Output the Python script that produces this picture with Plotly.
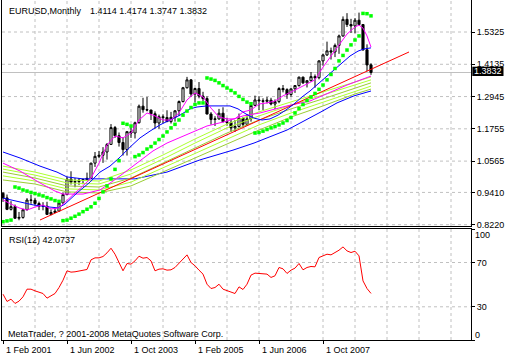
import plotly.graph_objects as go

# ---------------- data ----------------
bar = list(range(93))  # monthly bars, 0 = Feb 2001 ... 92 = Oct 2008

opens = [0.9380,0.9208,0.8785,0.8885,0.8458,0.8488,0.8770,0.9130,0.9120,0.9000,
         0.8900,0.8900,0.8600,0.8670,0.8720,0.9020,0.9330,0.9900,0.9790,0.9810,
         0.9860,0.9880,0.9930,1.0490,1.0740,1.0780,1.0900,1.1180,1.1800,1.1500,
         1.1250,1.0990,1.1650,1.1600,1.1980,1.2590,1.2460,1.2450,1.2310,1.1970,
         1.2200,1.2170,1.2020,1.2180,1.2420,1.2760,1.3270,1.3560,1.3040,1.3240,
         1.2960,1.2870,1.2300,1.2100,1.2120,1.2330,1.2020,1.1990,1.1790,1.1840,
         1.2150,1.1920,1.2120,1.2620,1.2820,1.2790,1.2770,1.2810,1.2670,1.2760,
         1.3240,1.3200,1.3020,1.3230,1.3350,1.3660,1.3450,1.3530,1.3680,1.3640,
         1.4260,1.4480,1.4630,1.4590,1.4830,1.5180,1.5790,1.5600,1.5550,1.5760,
         1.5600,1.4670,1.4114]
highs = [0.9418,0.9332,0.9087,0.8962,0.8690,0.8810,0.9200,0.9330,0.9210,0.9070,
         0.9050,0.9065,0.8780,0.8840,0.9060,0.9400,0.9990,1.0190,0.9940,0.9940,
         0.9920,1.0140,1.0500,1.0900,1.0940,1.1080,1.1230,1.1930,1.1860,1.1620,
         1.1450,1.1650,1.1830,1.2020,1.2650,1.2900,1.2930,1.2450,1.2400,1.2280,
         1.2290,1.2440,1.2380,1.2440,1.2800,1.3300,1.3670,1.3580,1.3270,1.3480,
         1.3120,1.2950,1.2370,1.2220,1.2490,1.2550,1.2160,1.2100,1.2080,1.2320,
         1.2160,1.2290,1.2650,1.2980,1.2960,1.2880,1.2930,1.2900,1.2840,1.3290,
         1.3370,1.3250,1.3240,1.3370,1.3680,1.3680,1.3540,1.3850,1.3760,1.4280,
         1.4530,1.4970,1.4750,1.4900,1.5230,1.5900,1.6020,1.5810,1.5840,1.6040,
         1.5620,1.4870,1.4174]
lows = [0.9060,0.8757,0.8743,0.8445,0.8384,0.8440,0.8750,0.8990,0.8930,0.8760,
        0.8750,0.8590,0.8565,0.8660,0.8720,0.9000,0.9310,0.9700,0.9600,0.9690,
        0.9710,0.9860,0.9910,1.0350,1.0680,1.0500,1.0620,1.1170,1.1420,1.1100,
        1.0770,1.0770,1.1420,1.1400,1.1950,1.2350,1.2400,1.2080,1.1760,1.1760,
        1.1970,1.2020,1.1950,1.2020,1.2230,1.2730,1.3240,1.2930,1.2720,1.2880,
        1.2780,1.2290,1.1910,1.1860,1.2090,1.1990,1.1870,1.1640,1.1640,1.1800,
        1.1820,1.1870,1.2020,1.2590,1.2450,1.2450,1.2690,1.2620,1.2480,1.2700,
        1.3100,1.2860,1.2940,1.3080,1.3310,1.3410,1.3280,1.3500,1.3270,1.3580,
        1.4080,1.4440,1.4310,1.4400,1.4520,1.5150,1.5510,1.5290,1.5280,1.5610,
        1.4630,1.3880,1.3747]
closes = [0.9208,0.8785,0.8885,0.8458,0.8488,0.8770,0.9130,0.9120,0.9000,0.8900,
          0.8900,0.8600,0.8670,0.8720,0.9020,0.9330,0.9900,0.9790,0.9810,0.9860,
          0.9880,0.9930,1.0490,1.0740,1.0780,1.0900,1.1180,1.1800,1.1500,1.1250,
          1.0990,1.1650,1.1600,1.1980,1.2590,1.2460,1.2450,1.2310,1.1970,1.2200,
          1.2170,1.2020,1.2180,1.2420,1.2760,1.3270,1.3560,1.3040,1.3240,1.2960,
          1.2870,1.2300,1.2100,1.2120,1.2330,1.2020,1.1990,1.1790,1.1840,1.2150,
          1.1920,1.2120,1.2620,1.2820,1.2790,1.2770,1.2810,1.2670,1.2760,1.3240,
          1.3200,1.3020,1.3230,1.3350,1.3660,1.3450,1.3530,1.3680,1.3640,1.4260,
          1.4480,1.4630,1.4590,1.4830,1.5180,1.5790,1.5600,1.5550,1.5760,1.5600,
          1.4670,1.4110,1.3832]

sar = [0.833,0.836,0.839,0.961,0.957,0.950,0.946,0.941,0.937,0.932,0.928,0.922,0.917,0.911,0.908,
       0.837,0.839,0.846,0.853,0.861,0.870,0.879,0.888,0.901,0.919,0.943,0.965,0.991,1.026,1.058,
       1.196,1.192,1.186,
       1.073,1.079,1.088,1.101,1.110,1.123,1.136,1.149,1.164,1.179,1.192,1.208,1.226,1.241,1.254,1.265,1.271,1.271,
       1.363,1.359,1.354,1.345,1.335,1.326,1.317,1.308,1.295,1.284,1.274,1.268,
       1.160,1.162,1.167,1.173,1.179,1.184,1.190,1.197,1.206,1.217,1.234,1.250,1.265,1.280,1.293,1.306,
       1.321,1.337,1.356,1.376,1.398,1.426,1.446,1.466,1.485,1.503,1.518,
       1.601,1.600,1.592]

fast_bars = [0,4,6,8,10,12,14,16,18,20,22,24,26,28,30,32,34,36,38,40,42,44,46,48,50,52,54,56,58,60,
             62,64,66,68,70,72,74,76,78,80,82,84,86,88,89,90,91,92]
fast_ma = [0.913,0.884,0.876,0.887,0.895,0.880,0.884,0.913,0.939,0.965,0.994,1.049,1.116,1.149,1.142,
           1.160,1.208,1.234,1.223,1.208,1.208,1.234,1.282,1.308,1.293,1.252,1.219,1.212,1.212,1.238,
           1.245,1.267,1.271,1.278,1.297,1.311,1.326,1.341,1.356,1.403,1.444,1.481,1.525,1.551,1.558,
           1.547,1.518,1.477]

med_bars = [0,4.25,7.5,11.75,13.75,15.5,18.5,21.75,24.25,26.75,29.25,31.75,34.25,36.75,39.25,41.75,
            44.25,46.75,48.5,51,56.75,58.75,60.75,62.75,64.75,66.75,68.75,70.75,72.75,74.75,76.75,
            78.75,80.75,82.75,84.75,86.75,88.75,90.25,92]
med_ma = [0.920,0.905,0.895,0.887,0.884,0.898,0.939,0.979,1.016,1.038,1.071,1.108,1.142,1.167,1.190,
          1.208,1.226,1.249,1.256,1.260,1.260,1.249,1.230,1.215,1.208,1.212,1.226,1.245,1.267,1.293,
          1.315,1.341,1.367,1.392,1.418,1.444,1.462,1.470,1.474]

slow_bars = [0,4.25,9.25,13,15,20,24.25,27.5,32.5,37.5,41,46,51,56,60,64.25,71,76.75,81.75,86,89.25,92]
slow_ma = [1.049,1.020,0.976,0.946,0.935,0.935,0.950,0.983,1.038,1.094,1.123,1.156,1.186,1.204,1.223,
           1.234,1.260,1.278,1.311,1.337,1.355,1.370]

long_bars = [0,4.25,9.25,13.5,16,20,33,36.75,41,49.25,57.5,62.75,71,79.5,83.5,87.75,92]
long_ma = [1.090,1.068,1.038,1.016,0.998,0.991,0.991,1.002,1.016,1.061,1.097,1.123,1.171,1.238,1.271,
           1.297,1.315]

yg_bars = [0,8,16,24,32,40,48,56,64,72,80,88,92]
yg1 = [1.038,1.016,0.987,0.983,1.024,1.079,1.138,1.193,1.238,1.274,1.311,1.348,1.367]
yg2 = [1.027,1.005,0.976,0.972,1.009,1.064,1.123,1.179,1.223,1.263,1.300,1.337,1.356]
yg3 = [1.016,0.994,0.965,0.961,0.994,1.050,1.105,1.160,1.208,1.249,1.286,1.326,1.345]
yg4 = [1.002,0.983,0.954,0.950,0.979,1.031,1.086,1.138,1.190,1.234,1.274,1.315,1.333]
yg5 = [0.987,0.972,0.943,0.939,0.965,1.016,1.068,1.120,1.171,1.219,1.260,1.304,1.322]

trend_bars = [9.25, 101.5]
trend_vals = [0.8393, 1.4588]

rsi = [41.4,34.8,36.9,33.0,35.1,39.0,45.9,45.9,44.4,43.5,
       42.0,37.8,40.2,42.0,47.4,54.0,62.5,61.3,61.6,62.2,
       62.8,63.7,72.4,74.2,74.2,75.4,78.7,82.9,77.5,70.0,
       62.5,69.1,68.5,71.5,75.7,73.9,74.5,71.5,62.5,64.0,
       64.3,63.1,63.4,65.5,69.1,73.6,76.9,70.0,67.0,63.1,
       59.5,50.4,46.5,47.4,50.4,45.9,44.4,42.9,42.0,48.0,
       45.6,50.4,58.6,60.4,60.1,59.2,59.5,56.5,58.0,65.5,
       64.3,60.1,63.1,64.9,69.1,63.4,65.5,66.4,66.1,74.5,
       76.3,77.5,76.9,78.7,81.1,84.1,80.5,79.0,80.2,76.0,
       53.4,46.5,42.0737]

price_ticks = [1.5325, 1.4135, 1.2945, 1.1755, 1.0565, 0.9410, 0.8220]
rsi_ticks = [100, 70, 30, 0]
rsi_grid = [70, 30]
x_tick_bars = [0, 16, 32, 48, 64, 80]
x_tick_labels = ["1 Feb 2001", "1 Jun 2002", "1 Oct 2003", "1 Feb 2005", "1 Jun 2006", "1 Oct 2007"]
vgrid_bars = [8 * k for k in range(1, 15)]
last_price = 1.3832

# ---------------- figure ----------------
FONT = "Liberation Sans, Arial, sans-serif"
fig = go.Figure()

fig.add_trace(go.Candlestick(
    x=bar, open=opens, high=highs, low=lows, close=closes,
    increasing=dict(line=dict(color="black", width=1), fillcolor="white"),
    decreasing=dict(line=dict(color="black", width=1), fillcolor="black"),
    whiskerwidth=0, xaxis="x", yaxis="y", hoverinfo="skip"))

def line(xs, ys, color, xa="x", ya="y"):
    fig.add_trace(go.Scatter(x=xs, y=ys, mode="lines", xaxis=xa, yaxis=ya,
                             line=dict(color=color, width=1), hoverinfo="skip"))

line(long_bars, long_ma, "#0000FF")
line(yg_bars, yg5, "#9ACD32")
line(yg_bars, yg4, "#ADFF2F")
line(yg_bars, yg3, "#9ACD32")
line(yg_bars, yg2, "#ADFF2F")
line(yg_bars, yg1, "#ADFF2F")
line(slow_bars, slow_ma, "#FF00FF")
line(trend_bars, trend_vals, "#FF0000")
line(med_bars, med_ma, "#0000FF")
line(fast_bars, fast_ma, "#FF00FF")

fig.add_trace(go.Scatter(x=bar, y=sar, mode="markers", xaxis="x", yaxis="y",
                         marker=dict(symbol="square", size=3.5, color="#00FF00", line=dict(width=0)),
                         hoverinfo="skip"))

line(bar, rsi, "#FF0000", "x2", "y2")

shapes = []
grid_line = dict(color="#C0C0C0", width=1, dash="3px,3px")
for v in price_ticks:
    shapes.append(dict(type="line", xref="x domain", x0=0, x1=1, yref="y", y0=v, y1=v,
                       line=grid_line, layer="below"))
for b in vgrid_bars:
    shapes.append(dict(type="line", xref="x", x0=b, x1=b, yref="y domain", y0=0, y1=1,
                       line=grid_line, layer="below"))
    shapes.append(dict(type="line", xref="x2", x0=b, x1=b, yref="y2 domain", y0=0, y1=1,
                       line=grid_line, layer="below"))
for v in rsi_grid:
    shapes.append(dict(type="line", xref="x2 domain", x0=0, x1=1, yref="y2", y0=v, y1=v,
                       line=grid_line, layer="below"))
# current price line
shapes.append(dict(type="line", xref="x domain", x0=0, x1=1, yref="y", y0=last_price, y1=last_price,
                   line=dict(color="#C0C0C0", width=1), layer="below"))
# current price label box on the price scale
shapes.append(dict(type="rect", xref="paper", x0=1.0028, x1=1.0693, yref="y", y0=1.3703, y1=1.4046,
                   fillcolor="black", line=dict(width=0), layer="above"))

ann = []
fs = 9
ann.append(dict(text="EURUSD,Monthly", xref="paper", yref="paper", x=0.0107, y=0.9691,
                xanchor="left", yanchor="middle", showarrow=False, font=dict(size=fs)))
ann.append(dict(text="1.4114 1.4174 1.3747 1.3832", xref="paper", yref="paper", x=0.184, y=0.9691,
                xanchor="left", yanchor="middle", showarrow=False, font=dict(size=fs)))
ann.append(dict(text="RSI(12) 42.0737", xref="paper", yref="paper", x=0.0107, y=0.295,
                xanchor="left", yanchor="middle", showarrow=False, font=dict(size=fs)))
ann.append(dict(text="MetaTrader, ? 2001-2008 MetaQuotes Software Corp.", xref="paper", yref="paper",
                x=0.0085, y=0.0176, xanchor="left", yanchor="middle", showarrow=False, font=dict(size=fs)))
for b, t in zip(x_tick_bars, x_tick_labels):
    ann.append(dict(text=t, xref="x2", yref="paper", x=b, y=-0.0303, xanchor="left", yanchor="middle",
                    xshift=1, showarrow=False, font=dict(size=fs)))
ann.append(dict(text="100", xref="paper", yref="paper", x=1, y=0.3088, xanchor="left", yanchor="middle",
                xshift=2, showarrow=False, font=dict(size=fs)))
ann.append(dict(text="0", xref="paper", yref="paper", x=1, y=0.0156, xanchor="left", yanchor="middle",
                xshift=2, showarrow=False, font=dict(size=fs)))
ann.append(dict(text="1.3832", xref="paper", yref="y", x=1.036, y=1.3874, xanchor="center",
                yanchor="middle", borderpad=0, showarrow=False, font=dict(size=fs, color="white")))

line_style = dict(showgrid=False, zeroline=False, showline=True, linecolor="black", linewidth=1,
                  automargin=False)

fig.update_layout(
    width=508, height=358, margin=dict(l=2, r=37, t=0, b=18, pad=0),
    paper_bgcolor="white", plot_bgcolor="white", showlegend=False,
    boxgap=0.25, hovermode=False,
    font=dict(family=FONT, size=fs, color="black"),
    xaxis=dict(domain=[0, 1], range=[-0.25, 117], anchor="y", showticklabels=False, ticks="",
               mirror=False, rangeslider=dict(visible=False), **line_style),
    yaxis=dict(domain=[0.3353, 1], range=[0.8172, 1.6505], anchor="x", side="right",
               tickvals=price_ticks, ticktext=[f"{v:.4f}" for v in price_ticks],
               ticks="outside", ticklen=3, tickcolor="black", mirror=True, **line_style),
    xaxis2=dict(domain=[0, 1], range=[-0.25, 117], anchor="y2", tickvals=x_tick_bars,
                ticktext=[""] * len(x_tick_bars), ticks="outside", ticklen=3, tickcolor="black",
                mirror=True, **line_style),
    yaxis2=dict(domain=[0, 0.3279], range=[0, 100.7], anchor="x2", side="right",
                tickvals=rsi_ticks, ticktext=["", "70", "30", ""], ticks="outside", ticklen=3,
                tickcolor="black", mirror=True, **line_style),
    shapes=shapes, annotations=ann,
)

fig.write_html("out.html", config={"displayModeBar": False},
               post_script="document.body.style.margin='0';document.body.style.padding='0';")
